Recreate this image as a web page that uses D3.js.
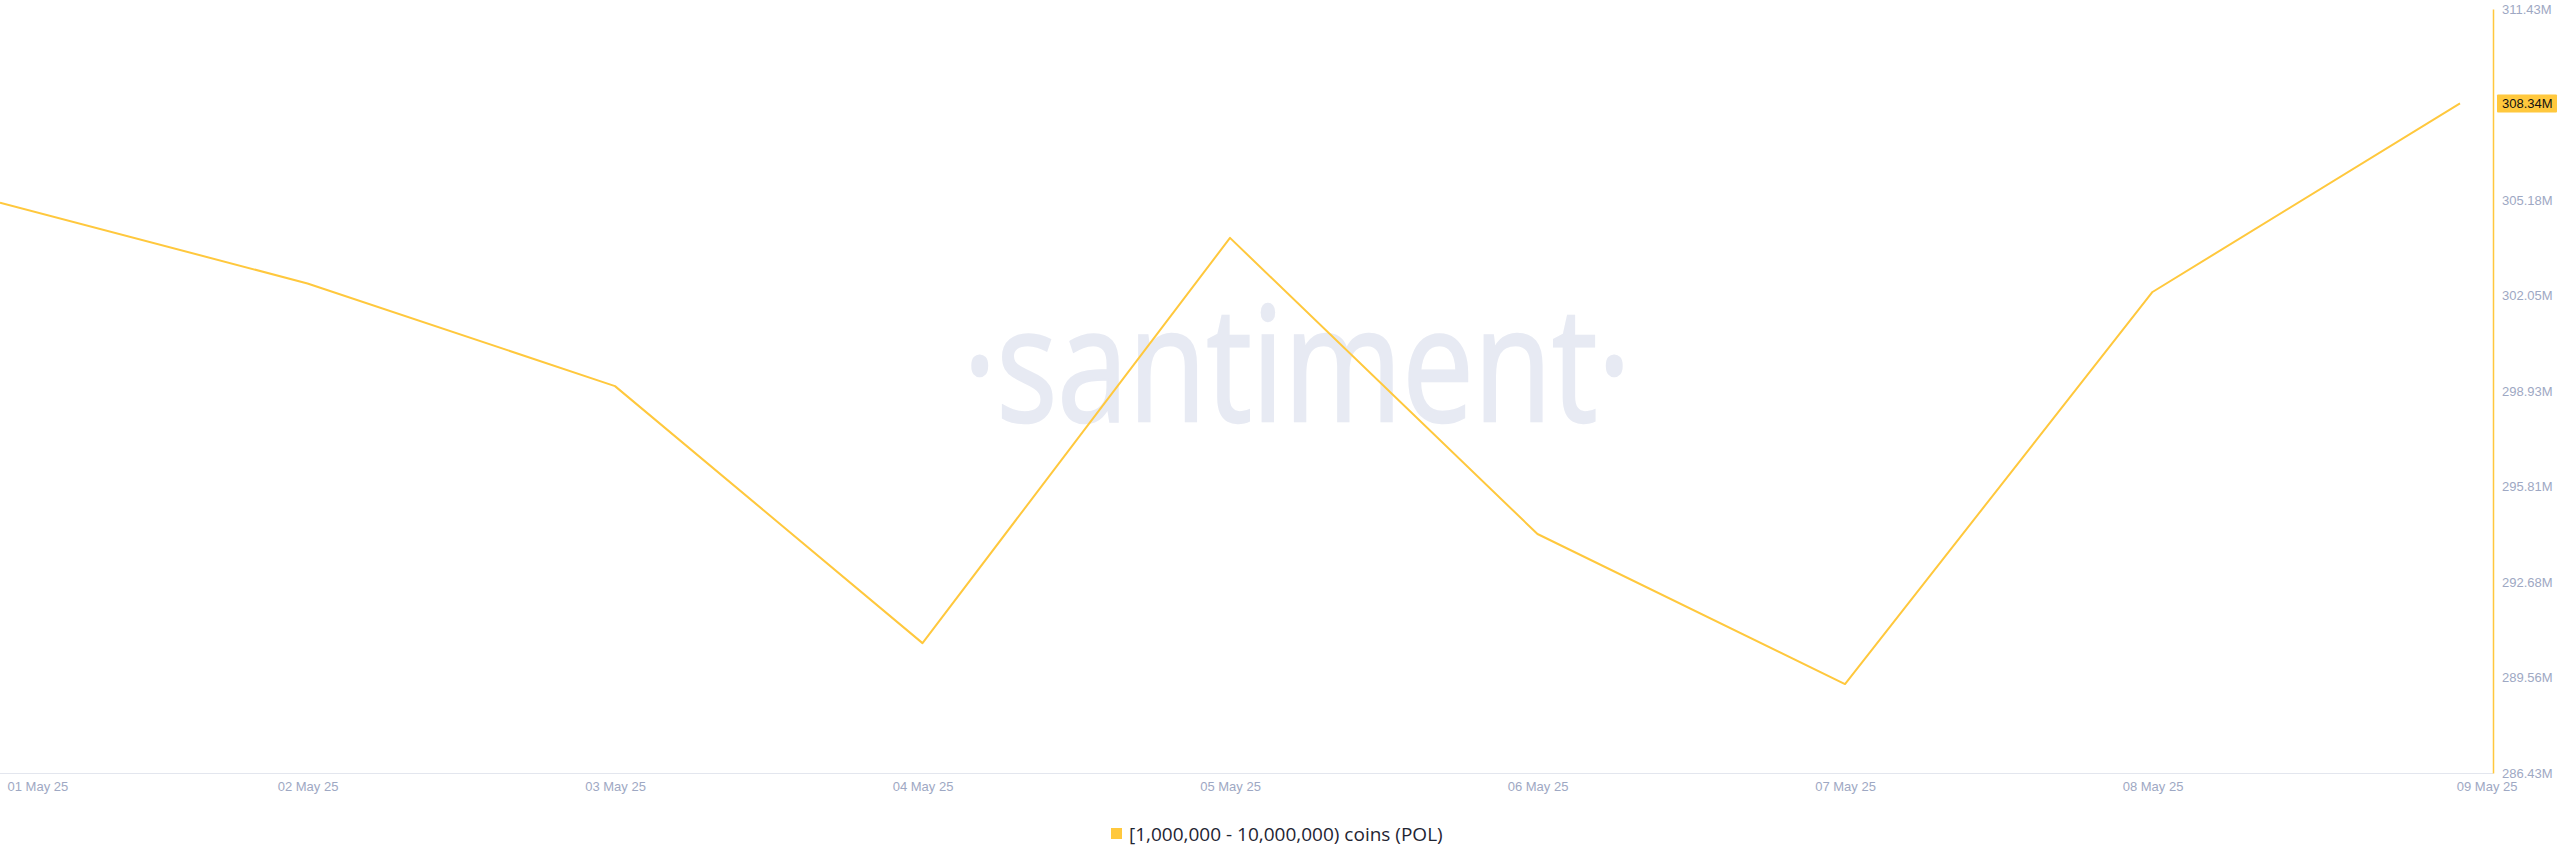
<!DOCTYPE html>
<html>
<head>
<meta charset="utf-8">
<script src="https://cdn.jsdelivr.net/npm/d3@7"></script>
<style>
  html, body { margin: 0; padding: 0; background: #ffffff; }
  svg { display: block; }
</style>
</head>
<body>
<div id="chart"></div>
<script>
// ---- data ----
const dates = ["2025-05-01","2025-05-02","2025-05-03","2025-05-04","2025-05-05","2025-05-06","2025-05-07","2025-05-08","2025-05-09"];
const values = [305.09, 302.45, 299.09, 290.68, 303.94, 294.25, 289.34, 302.17, 308.34]; // millions of coins
const yTickValues = [286.43, 289.56, 292.68, 295.81, 298.93, 302.05, 305.18, 311.43];
const yDomain = [286.43, 311.43];
const seriesName = "[1,000,000 - 10,000,000) coins (POL)";
const watermark = "·santiment·";

// ---- layout ----
const W = 2560, H = 867;
const plotLeft = 0, plotRight = 2460, axisX = 2493;
const plotTop = 9, plotBottom = 773;
const lineColor = "#ffc83d";
const labelColor = "#9ea8c3";

const parse = d3.timeParse("%Y-%m-%d");
const data = dates.map((d, i) => ({ date: parse(d), value: values[i] }));

const svg = d3.select("#chart").append("svg")
  .attr("width", W).attr("height", H)
  .style("font-family", "'Liberation Sans', Arial, sans-serif");

const x = d3.scaleTime()
  .domain(d3.extent(data, d => d.date))
  .range([plotLeft, plotRight]);
const y = d3.scaleLinear().domain(yDomain).range([plotBottom, plotTop]);

// watermark
svg.append("text")
  .attr("x", 963).attr("y", 421)
  .attr("textLength", 668)
  .attr("lengthAdjust", "spacingAndGlyphs")
  .style("font-family", "'Open Sans', sans-serif")
  .style("font-size", "160px")
  .style("font-weight", 400)
  .attr("fill", "#e7eaf3")
  .attr("stroke", "#e7eaf3")
  .attr("stroke-width", 2.5)
  .text(watermark);

// x baseline
svg.append("line")
  .attr("x1", plotLeft).attr("x2", axisX)
  .attr("y1", plotBottom + 0.5).attr("y2", plotBottom + 0.5)
  .attr("stroke", "#e3e6ee").attr("stroke-width", 1);

// x axis
const xAxis = svg.append("g")
  .attr("transform", `translate(0,${plotBottom})`)
  .call(d3.axisBottom(x)
    .tickValues(data.map(d => d.date))
    .tickFormat(d3.timeFormat("%d %b %y"))
    .tickSize(0).tickPadding(9));
xAxis.select(".domain").remove();
xAxis.selectAll("text")
  .attr("fill", labelColor)
  .style("font-size", "13px")
  .style("font-family", "'Liberation Sans', Arial, sans-serif");
const xTexts = xAxis.selectAll("text").nodes();
d3.select(xTexts[0]).attr("text-anchor", "start").attr("x", 7 - x(data[0].date));
d3.select(xTexts[xTexts.length - 1]).attr("text-anchor", "end")
  .attr("x", axisX + 24 - x(data[data.length - 1].date));

// y axis (right)
const yAxis = svg.append("g")
  .attr("transform", `translate(${axisX},0)`)
  .call(d3.axisRight(y)
    .tickValues(yTickValues)
    .tickFormat(d => d3.format(".2f")(d) + "M")
    .tickSize(0).tickSizeOuter(0).tickPadding(9));
yAxis.select(".domain").attr("stroke", lineColor).attr("stroke-width", 1.5);
yAxis.selectAll("text")
  .attr("fill", labelColor)
  .style("font-size", "13px")
  .style("font-family", "'Liberation Sans', Arial, sans-serif");

// line
const line = d3.line().x(d => x(d.date)).y(d => y(d.value));
svg.append("path")
  .datum(data)
  .attr("d", line)
  .attr("fill", "none")
  .attr("stroke", lineColor)
  .attr("stroke-width", 2)
  .attr("stroke-linejoin", "round");

// last value highlight
const last = data[data.length - 1];
const hl = svg.append("g").attr("transform", `translate(${axisX + 4},${y(last.value)})`);
hl.append("rect").attr("x", 0).attr("y", -9).attr("width", 60).attr("height", 18)
  .attr("rx", 1).attr("fill", lineColor);
hl.append("text").attr("x", 5).attr("dy", "0.35em")
  .style("font-size", "13px").attr("fill", "#111")
  .text(d3.format(".2f")(last.value) + "M");

// legend
const legend = svg.append("g");
legend.append("text")
  .attr("x", 1129).attr("y", 834).attr("dy", "0.35em")
  .style("font-family", "'Open Sans', sans-serif")
  .style("font-size", "19px")
  .attr("fill", "#1f2533")
  .text(seriesName);
legend.append("rect").attr("x", 1111).attr("y", 828).attr("width", 11).attr("height", 11)
  .attr("fill", lineColor);
</script>
</body>
</html>
